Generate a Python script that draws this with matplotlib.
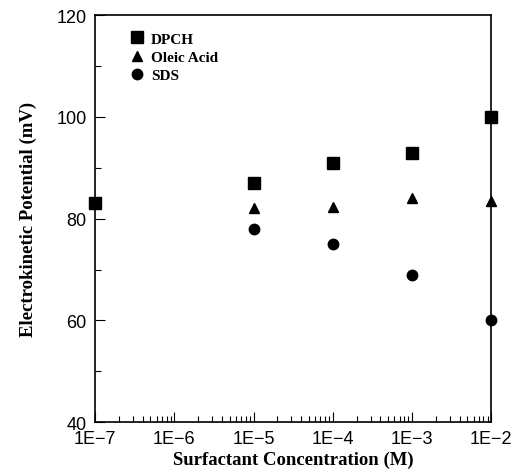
import numpy as np
import matplotlib.pyplot as plt
from matplotlib.ticker import LogLocator, MultipleLocator, FixedLocator, FixedFormatter

# Data
dpch_x = [1e-7, 1e-5, 1e-4, 1e-3, 1e-2]
dpch_y = [83, 87, 91, 93, 100]
oleic_x = [1e-5, 1e-4, 1e-3, 1e-2]
oleic_y = [82, 82.3, 84, 83.4]
sds_x = [1e-5, 1e-4, 1e-3, 1e-2]
sds_y = [78, 75, 69, 60]

xtick_vals = [1e-7, 1e-6, 1e-5, 1e-4, 1e-3, 1e-2]
xtick_labels = ['1E\u22127', '1E\u22126', '1E\u22125', '1E\u22124', '1E\u22123', '1E\u22122']

fig = plt.figure(figsize=(5.17, 4.77), dpi=100)
ax = fig.add_axes([0.184, 0.113, 0.766, 0.853])

ax.plot(dpch_x, dpch_y, 's', color='black', markersize=8, clip_on=False, label='DPCH')
ax.plot(oleic_x, oleic_y, '^', color='black', markersize=7, clip_on=False, label='Oleic Acid')
ax.plot(sds_x, sds_y, 'o', color='black', markersize=7.5, clip_on=False, label='SDS')

ax.set_xscale('log')
ax.set_xlim(1e-7, 1e-2)
ax.set_ylim(40, 120)

ax.xaxis.set_major_locator(FixedLocator(xtick_vals))
ax.xaxis.set_major_formatter(FixedFormatter(xtick_labels))
ax.xaxis.set_minor_locator(LogLocator(base=10, subs=np.arange(2, 10)))
ax.yaxis.set_major_locator(MultipleLocator(20))
ax.yaxis.set_minor_locator(MultipleLocator(10))

ax.tick_params(which='both', direction='in', top=False, right=False)
ax.tick_params(which='major', length=7, width=0.8, labelsize=13, pad=6)
ax.tick_params(which='minor', length=4, width=0.8)
for lab in ax.get_xticklabels() + ax.get_yticklabels():
    lab.set_family('Liberation Sans')

for s in ax.spines.values():
    s.set_linewidth(1.2)

ax.set_xlabel('Surfactant Concentration (M)', family='Liberation Serif',
              fontweight='bold', fontsize=13.5, labelpad=2)
ax.set_ylabel('Electrokinetic Potential (mV)', family='Liberation Serif',
              fontweight='bold', fontsize=13.5, labelpad=14)

leg = ax.legend(loc='upper left', frameon=False, handletextpad=0.4,
                handlelength=1.0, labelspacing=0.3, borderaxespad=0.7,
                bbox_to_anchor=(0.045, 1.0), markerscale=1.0,
                prop={'family': 'Liberation Serif', 'weight': 'bold', 'size': 11})

fig.savefig('out.png', dpi=100)
